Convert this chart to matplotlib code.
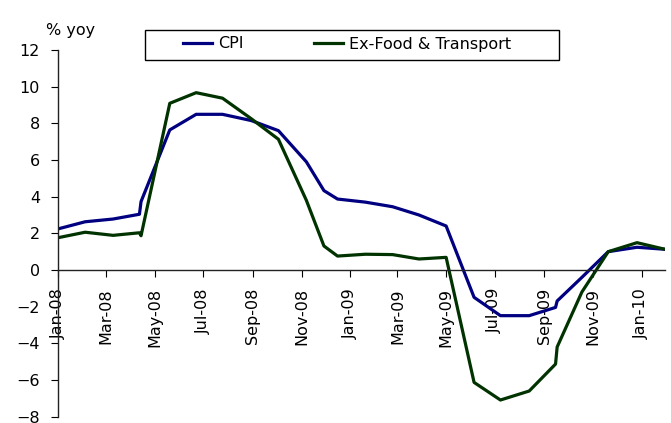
import pandas as pd
import matplotlib
matplotlib.use('Agg')
import matplotlib.pyplot as plt
import matplotlib.dates as mdates
from matplotlib.patches import Rectangle

dates = ['2008-01-01', '2008-02-04', '2008-03-10', '2008-04-12', '2008-04-14',
         '2008-05-20', '2008-06-22', '2008-07-25', '2008-08-30', '2008-10-03',
         '2008-11-07', '2008-11-29', '2008-12-16', '2009-01-20', '2009-02-23',
         '2009-03-28', '2009-05-01', '2009-06-05', '2009-07-08', '2009-08-13',
         '2009-09-15', '2009-09-17', '2009-10-18', '2009-11-20', '2009-12-26',
         '2010-01-30']
cpi = [2.24, 2.63, 2.78, 3.04, 3.73, 7.64, 8.49, 8.49, 8.15, 7.60,
       5.90, 4.33, 3.87, 3.70, 3.45, 3.00, 2.40, -1.49, -2.49, -2.49,
       -2.04, -1.69, -0.40, 1.00, 1.24, 1.13]
ex_food = [1.76, 2.06, 1.89, 2.03, 1.87, 9.09, 9.67, 9.37, 8.25, 7.13,
           3.80, 1.31, 0.76, 0.86, 0.84, 0.60, 0.69, -6.13, -7.09, -6.60,
           -5.13, -4.20, -1.20, 1.00, 1.49, 1.13]

df = pd.DataFrame({'CPI': cpi, 'Ex-Food & Transport': ex_food},
                  index=pd.to_datetime(dates))

plt.rcParams['font.family'] = ['DejaVu Sans']
plt.rcParams['font.size'] = 11.5

W, H = 671, 423
fig = plt.figure(figsize=(W / 100, H / 100), dpi=100)
ax = fig.add_axes([0.0864, 0.0149, 0.9046, 0.867])

ax.plot(df.index, df['CPI'], color='#000080', lw=2.3, label='CPI')
ax.plot(df.index, df['Ex-Food & Transport'], color='#003300', lw=2.3,
        label='Ex-Food & Transport')

ax.set_ylim(-8, 12)
ax.set_yticks(range(-8, 13, 2))
ax.set_xlim(df.index[0], df.index[-1])

ax.xaxis.set_major_locator(mdates.MonthLocator(bymonth=[1, 3, 5, 7, 9, 11]))
ax.xaxis.set_major_formatter(mdates.DateFormatter('%b-%y'))
ax.tick_params(axis='x', rotation=90, direction='out', length=5, pad=8)
ax.tick_params(axis='y', direction='out', length=5, pad=8)
for lbl in ax.get_xticklabels():
    lbl.set_va('top')

ax.spines['top'].set_visible(False)
ax.spines['right'].set_visible(False)
ax.spines['bottom'].set_position(('data', 0))
for s in ['left', 'bottom']:
    ax.spines[s].set_color('#222222')
    ax.spines[s].set_linewidth(1)

fig.text(46 / W, 1 - 30 / H, '% yoy', fontsize=11.5, va='center')

# legend without its own frame, box drawn separately (wide side padding)
fig.legend(loc='center left', bbox_to_anchor=(183 / W, 1 - 44 / H), ncol=2,
           frameon=False, borderpad=0, borderaxespad=0,
           handlelength=1.8, handletextpad=0.4, columnspacing=4.4)
fig.patches.append(Rectangle((145 / W, 1 - 60 / H), 414 / W, 30 / H,
                             transform=fig.transFigure, fill=False,
                             edgecolor='black', lw=1))

plt.savefig('out.png', dpi=100)
plt.close()
